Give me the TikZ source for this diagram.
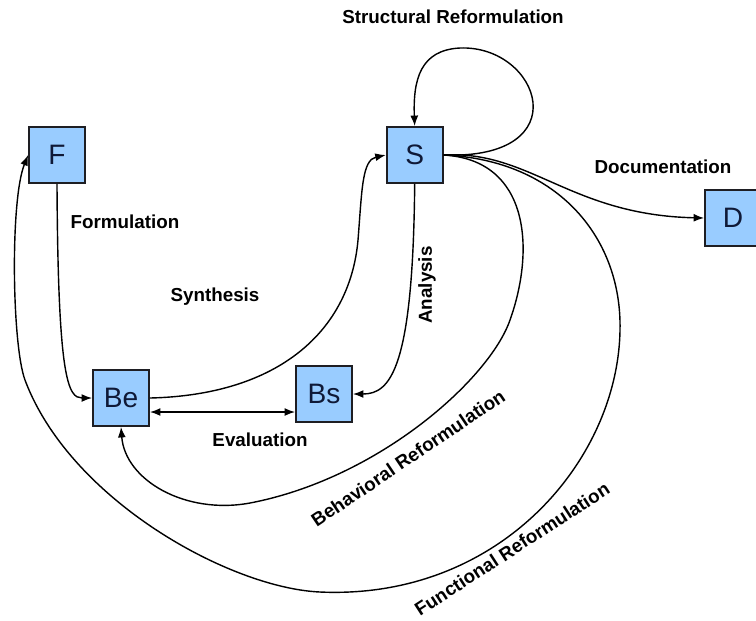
\documentclass[tikz,border=0pt]{standalone}
\usepackage{fontspec}
\setmainfont{Liberation Sans}
\definecolor{boxblue}{RGB}{153,204,255}
\definecolor{boxline}{RGB}{30,30,35}
\definecolor{boxtext}{RGB}{15,25,55}
\usetikzlibrary{arrows.meta,positioning,calc}

\begin{document}
\begin{tikzpicture}[
      x=0.02cm, y=-0.02cm,
      arr/.style={-{Latex[length=6pt,width=4.5pt]}, line width=0.8pt, black},
      blk/.style={draw=boxline, line width=1pt, fill=boxblue, text=boxtext,
                  minimum size=1.12cm, inner sep=0pt,
                  font=\fontsize{16}{18}\selectfont},
      lbl/.style={font=\fontsize{10.7}{12}\selectfont\bfseries, inner sep=1pt}
    ]
    \useasboundingbox (0,0) rectangle (756,620);
    % stages
    \node[blk] (F) at (57,155) {F};
    \node[blk, right=6cm of F] (S) {S};
    \node[blk] (D) at (733,218) {D};
    \node[blk] (Be) at (121,398) {Be};
    \node[blk] (Bs) at (324,394) {Bs};
    % labels
    \node[lbl] (structural) at (453,17) {Structural Reformulation};
    \node[lbl] (formulation) at (125,222) {Formulation};
    \node[lbl] (synthesis) at (215,297) {Synthesis};
    \node[lbl, rotate=90] (analysis) at (427,285) {Analysis};
    \node[lbl] (documentation) at (663,167) {Documentation};
    \node[lbl] (evaluation) at (260,440) {Evaluation};
    \node[lbl, rotate=34] (behavioral) at (408,458) {Behavioral Reformulation};
    \node[lbl, rotate=33] (functional) at (512,549) {Functional Reformulation};
    % transitions
    \draw[arr] (F.south) .. controls (58,380) and (68,398) .. (Be.west);
    \draw[arr] (Be.east) .. controls (280,395) and (350,330) .. (358,240)
                         .. controls (362,190) and (362,160) .. (S.west);
    \draw[arr] (S.south) .. controls (413,370) and (390,394) .. (Bs.east);
    \draw[arr, {Latex[length=6pt,width=4.5pt]}-{Latex[length=6pt,width=4.5pt]}]
      ([yshift=-0.28cm]Be.east) -- ([yshift=-0.28cm]Be.east -| Bs.west);
    \draw[arr] (S.east) .. controls (580,160) and (540,45) .. (460,48)
                        .. controls (420,50) and (413,80) .. (S.north);
    \draw[arr] (S.east) .. controls (530,150) and (570,215) .. (D.west);
    \draw[arr] (S.east) .. controls (530,160) and (535,250) .. (510,320)
                        .. controls (490,378) and (380,478) .. (250,503)
                        .. controls (185,515) and (125,480) .. (Be.south);
    \draw[arr] (S.east) .. controls (560,160) and (622,240) .. (620,330)
                        .. controls (618,460) and (500,600) .. (320,592)
                        .. controls (230,588) and (70,500) .. (25,380)
                        .. controls (12,345) and (10,200) .. (F.west);
\end{tikzpicture}
\end{document}
